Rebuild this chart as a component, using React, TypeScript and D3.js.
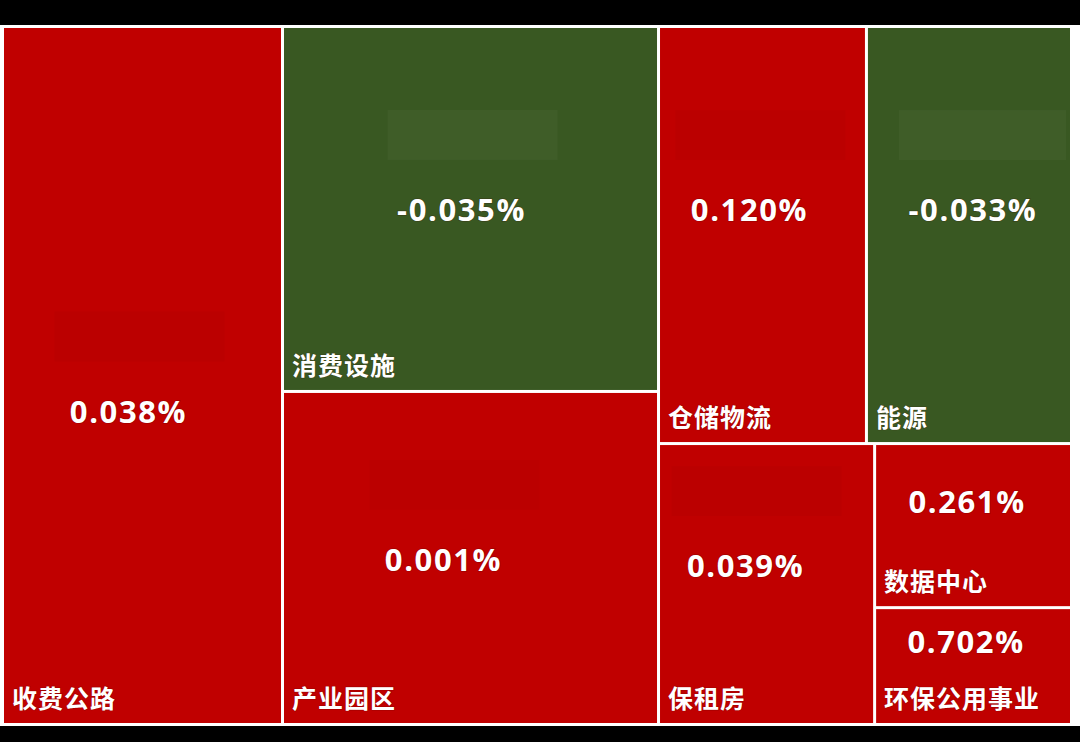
import React, { useMemo } from "react";
import * as d3 from "d3";

// ---- data ----
const categories = ["收费公路", "消费设施", "产业园区", "仓储物流", "能源", "保租房", "数据中心", "环保公用事业"];
const weights = [195.4, 137.2, 125.2, 86.7, 85.5, 60.7, 32.3, 23.0];
const changes = [0.038, -0.035, 0.001, 0.12, -0.033, 0.039, 0.261, 0.702];
// layout nesting (slice/dice groups), in drawing order
const layoutRows: [string, string | null][] = [
  ["root", null],
  ["收费公路", "root"],
  ["A", "root"],
  ["消费设施", "A"],
  ["产业园区", "A"],
  ["B", "root"],
  ["B1", "B"],
  ["仓储物流", "B1"],
  ["能源", "B1"],
  ["B2", "B"],
  ["保租房", "B2"],
  ["B3", "B2"],
  ["数据中心", "B3"],
  ["环保公用事业", "B3"],
];

// ---- presentation ----
const W = 1080;
const H = 742;
const UP = "#C00000";
const DOWN = "#395822";
const OX = 4;
const OY = 28;
const TW = 1066;
const TH = 695;
// value-label nudges relative to the tile centre
const valueNudge: Record<string, [number, number]> = {
  收费公路: [-14, 35],
  消费设施: [-9, 0],
  产业园区: [-27, 1],
  仓储物流: [-13, -26],
  能源: [4, -26],
  保租房: [-21, -19],
  数据中心: [-6, -25],
  环保公用事业: [-7, -25],
};

const fmt = (v: number) => (v < 0 ? "-" : "") + d3.format(".3f")(Math.abs(v)) + "%";

export default function App() {
  const leaves = useMemo(() => {
    const rows = layoutRows.map(([id, parent]) => {
      const i = categories.indexOf(id);
      return { id, parent, value: i >= 0 ? weights[i] : 0, change: i >= 0 ? changes[i] : 0 };
    });
    const root = d3
      .stratify<any>()
      .id((d: any) => d.id)
      .parentId((d: any) => d.parent)(rows)
      .sum((d: any) => d.value);
    d3.treemap<any>().tile(d3.treemapSliceDice).size([TW, TH]).paddingInner(3)(root);
    return root.leaves() as d3.HierarchyRectangularNode<any>[];
  }, []);

  return (
    <svg width={W} height={H} style={{ display: "block", position: "absolute", left: 0, top: 0 }}>
      <rect x={0} y={0} width={W} height={H} fill="#ffffff" />
      <rect x={0} y={0} width={W} height={25} fill="#000000" />
      <rect x={0} y={726} width={W} height={H - 726} fill="#000000" />
      <g transform={`translate(${OX},${OY})`}>
        {leaves.map((n) => {
          const d = n.data;
          const up = d.change >= 0;
          const cx = (n.x0 + n.x1) / 2;
          const cy = (n.y0 + n.y1) / 2;
          const [dx, dy] = valueNudge[d.id] || [0, 0];
          const vx = cx + dx;
          const vy = cy + dy;
          const tall = n.y1 - n.y0 > 200;
          const gx0 = Math.max(n.x0 + 8, vx - 74);
          const gx1 = Math.min(n.x1 - 4, vx + 96);
          return (
            <g key={d.id}>
              <rect x={n.x0} y={n.y0} width={n.x1 - n.x0} height={n.y1 - n.y0} fill={up ? UP : DOWN} />
              {tall && (
                <rect
                  x={gx0}
                  y={vy - 99}
                  width={gx1 - gx0}
                  height={50}
                  fill={up ? "#000000" : "#ffffff"}
                  opacity={up ? 0.025 : 0.03}
                />
              )}
              <text
                x={vx}
                y={vy}
                textAnchor="middle"
                dominantBaseline="central"
                fill="#ffffff"
                stroke="rgba(60,0,0,0.25)"
                strokeWidth={1.5}
                paintOrder="stroke"
                style={{ fontFamily: "'Open Sans', 'Noto Sans', sans-serif", fontWeight: 700, fontSize: 31, letterSpacing: 1.6 }}
              >
                {fmt(d.change)}
              </text>
              <text
                x={n.x0 + 8}
                y={n.y1 - 26}
                dominantBaseline="central"
                fill="#ffffff"
                stroke="rgba(60,0,0,0.25)"
                strokeWidth={1.2}
                paintOrder="stroke"
                style={{ fontFamily: "'Noto Sans CJK SC', sans-serif", fontWeight: 700, fontSize: 25, letterSpacing: 1 }}
              >
                {d.id}
              </text>
            </g>
          );
        })}
      </g>
    </svg>
  );
}
